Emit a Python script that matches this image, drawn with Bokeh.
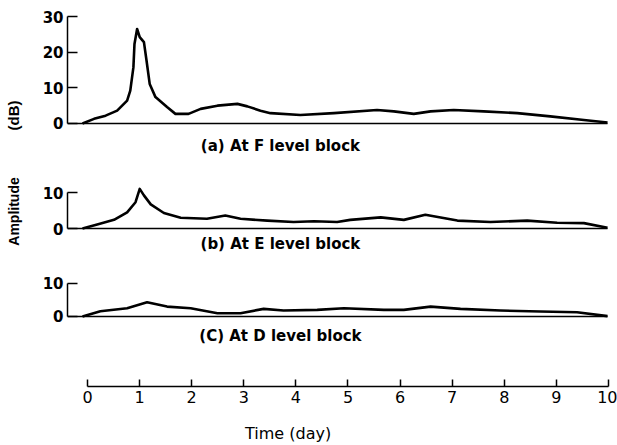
import math
from bokeh.plotting import figure
from bokeh.layouts import column, row
from bokeh.models import Range1d, LinearAxis, FixedTicker, Label
from bokeh.embed import file_html
from bokeh.resources import INLINE

# ---- data ----
days_a = [0.0, 0.22, 0.44, 0.66, 0.85, 0.91, 0.97, 0.99, 1.04, 1.09, 1.17, 1.22, 1.28,
          1.39, 1.61, 1.77, 2.02, 2.25, 2.57, 2.95, 3.14, 3.39, 3.58, 4.15, 4.79, 5.61,
          5.93, 6.31, 6.63, 7.07, 7.64, 8.28, 8.91, 9.55, 10.0]
amp_a = [0.0, 1.3, 2.2, 3.6, 6.4, 9.2, 15.8, 22.3, 26.5, 24.2, 22.8, 17.6, 11.1,
         7.4, 4.6, 2.7, 2.7, 4.1, 5.0, 5.5, 4.8, 3.6, 2.9, 2.4, 2.9, 3.8,
         3.4, 2.7, 3.4, 3.8, 3.4, 2.9, 2.0, 1.0, 0.3]

days_b = [0.0, 0.28, 0.6, 0.85, 1.01, 1.09, 1.17, 1.30, 1.55, 1.87, 2.37, 2.72, 3.01,
          3.52, 4.02, 4.41, 4.85, 5.1, 5.68, 6.12, 6.53, 7.14, 7.77, 8.47, 9.04, 9.55, 10.0]
amp_b = [0.0, 1.1, 2.4, 4.5, 7.3, 11.0, 9.2, 6.7, 4.3, 3.0, 2.7, 3.6, 2.7,
         2.2, 1.8, 2.0, 1.8, 2.4, 3.1, 2.4, 3.8, 2.2, 1.8, 2.2, 1.6, 1.5, 0.2]

days_c = [0.0, 0.34, 0.85, 1.23, 1.61, 2.06, 2.57, 3.01, 3.45, 3.83, 4.47, 4.98,
          5.74, 6.12, 6.63, 7.2, 7.96, 8.72, 9.42, 10.0]
amp_c = [0.0, 1.6, 2.5, 4.3, 3.0, 2.5, 1.0, 1.0, 2.3, 1.8, 2.0, 2.5,
         2.0, 2.0, 3.0, 2.3, 1.8, 1.5, 1.3, 0.1]

ticks_a = [0, 10, 20, 30]
ticks_b = [0, 10]
ticks_c = [0, 10]
time_ticks = list(range(0, 11))

captions = ["(a) At F level block", "(b) At E level block", "(C) At D level block"]
y_label_top = "(dB)"
y_label_bottom = "Amplitude"
x_label = "Time (day)"

# ---- layout constants ----
LW = 25                        # width of the strip holding the vertical labels
W = 617 - LW
X0, X1 = -0.2857, 10.19       # panel x range (frame)
T0, T1 = -0.384, 10.173       # time axis range (frame)
FONT = "DejaVu Sans"


def clean(p):
    p.outline_line_color = None
    p.grid.grid_line_color = None
    p.background_fill_color = "white"
    p.border_fill_color = "white"
    return p


def panel(height, yr, ticks, days, amp, caption, cap_y):
    p = figure(width=W, height=height, x_range=Range1d(X0, X1), y_range=Range1d(*yr),
               output_backend="svg", toolbar_location=None,
               x_axis_location=None, y_axis_location=None,
               min_border_left=67 - LW, min_border_right=0, min_border_top=0,
               min_border_bottom=0)
    clean(p)
    ax = LinearAxis(bounds=(ticks[0], ticks[-1]), ticker=FixedTicker(ticks=ticks),
                    major_tick_in=10, major_tick_out=0, minor_tick_in=0, minor_tick_out=0,
                    axis_line_width=1.5, axis_line_color="black",
                    major_tick_line_width=1.5, major_tick_line_color="black",
                    major_label_standoff=4, major_label_text_font=FONT,
                    major_label_text_font_style="bold", major_label_text_font_size="15px",
                    major_label_text_color="black")
    p.add_layout(ax, "left")
    p.segment(x0=[X0], y0=[0], x1=[days[-1]], y1=[0], line_color="black", line_width=1.5)
    p.line(days, amp, line_color="black", line_width=2.6, line_join="round")
    p.add_layout(Label(x=3.77, y=cap_y, text=caption, text_align="center",
                       text_baseline="middle", text_font=FONT, text_font_style="bold",
                       text_font_size="15px", text_color="black"))
    return p


pa = panel(160, (-10.374, 34.486), ticks_a, days_a, amp_a, captions[0], -6.17)
pb = panel(102, (-9.444, 18.89), ticks_b, days_b, amp_b, captions[1], -4.17)
pc = panel(93, (-11.82, 16.36), ticks_c, days_c, amp_c, captions[2], -5.76)

# time axis
pd = figure(width=W, height=60, x_range=Range1d(T0, T1), y_range=Range1d(0, 1),
            output_backend="svg", toolbar_location=None,
            x_axis_location=None, y_axis_location=None,
            min_border_left=67 - LW, min_border_right=0, min_border_top=0,
            min_border_bottom=29)
clean(pd)
tax = LinearAxis(bounds=(0, 10), ticker=FixedTicker(ticks=time_ticks),
                 major_tick_in=7, major_tick_out=0, minor_tick_in=0, minor_tick_out=0,
                 axis_line_width=1.5, axis_line_color="black",
                 major_tick_line_width=1.5, major_tick_line_color="black",
                 major_label_standoff=4, major_label_text_font=FONT,
                 major_label_text_font_size="16px", major_label_text_color="black")
pd.add_layout(tax, "below")
pd.scatter(x=[0], y=[0], alpha=0)

# strip with the time-axis title
pe = figure(width=W, height=30, x_range=Range1d(T0, T1), y_range=Range1d(0, 1),
            output_backend="svg", toolbar_location=None,
            x_axis_location=None, y_axis_location=None,
            min_border_left=67 - LW, min_border_right=0, min_border_top=0,
            min_border_bottom=0)
clean(pe)
pe.add_layout(Label(x=3.85, y=0.4, text=x_label, text_align="center",
                    text_baseline="middle", text_font=FONT, text_font_size="16px",
                    text_color="black"))
pe.scatter(x=[0], y=[0], alpha=0)

# strip with the vertical amplitude label
pl = figure(width=LW, height=445, x_range=Range1d(0, LW), y_range=Range1d(445, 0),
            output_backend="svg", toolbar_location=None,
            x_axis_location=None, y_axis_location=None,
            min_border_left=0, min_border_right=0, min_border_top=0, min_border_bottom=0)
clean(pl)
for txt, yc, fs in ((y_label_top, 115, "15px"), (y_label_bottom, 211, "14px")):
    pl.add_layout(Label(x=13, y=yc, text=txt, angle=math.pi / 2,
                        text_align="center", text_baseline="middle",
                        text_font="Liberation Sans", text_font_style="bold",
                        text_font_size=fs, text_color="black"))
pl.scatter(x=[0], y=[0], alpha=0)

layout = row(pl, column(pa, pb, pc, pd, pe, spacing=0), spacing=0)
open("out.html", "w").write(file_html(layout, INLINE))
